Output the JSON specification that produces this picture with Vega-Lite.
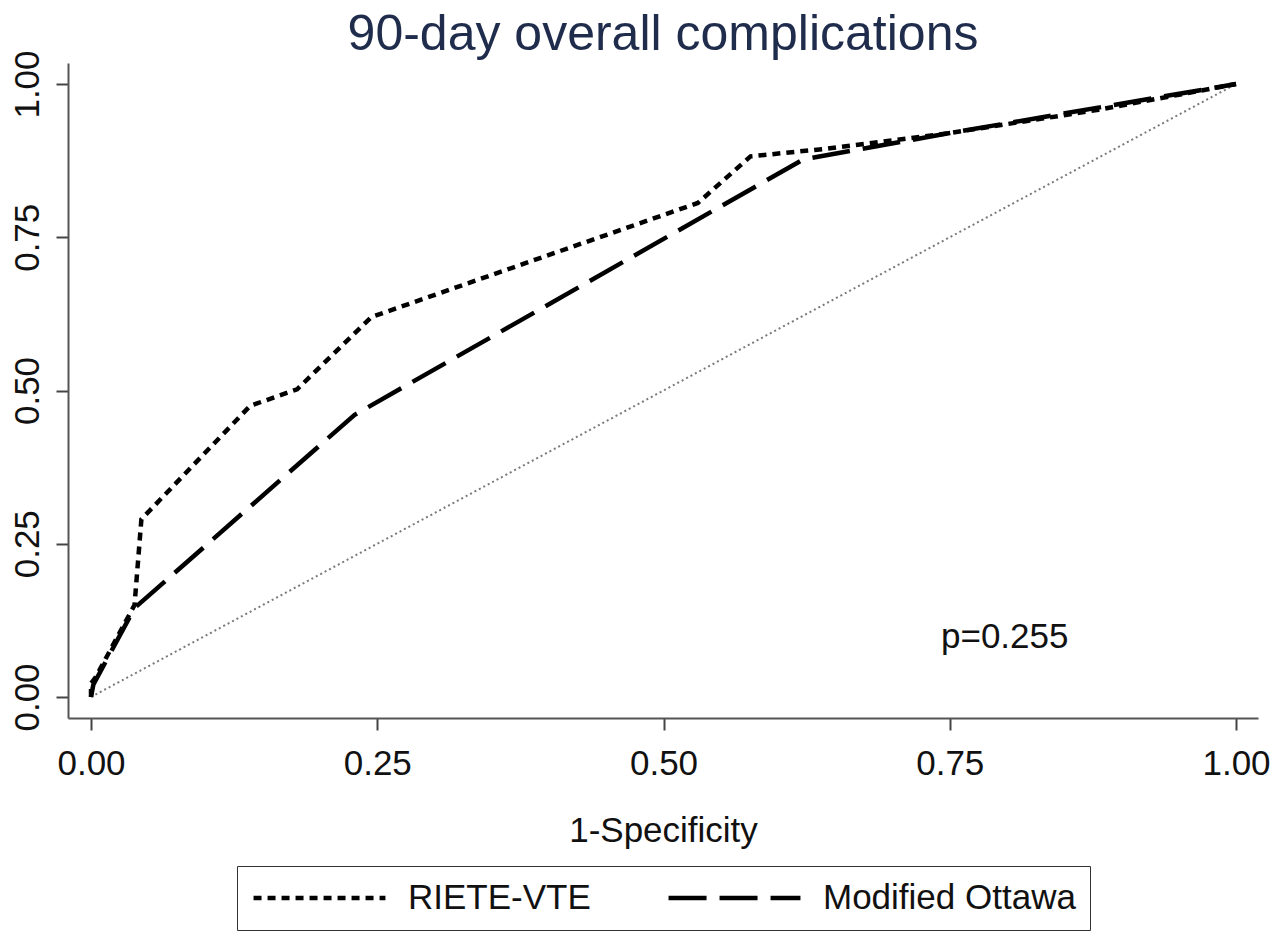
{
  "$schema": "https://vega.github.io/schema/vega-lite/v6.json",
  "autosize": {"type": "none"},
  "width": 1190,
  "height": 655,
  "padding": {"left": 68, "top": 63, "right": 30, "bottom": 217},
  "background": "white",
  "config": {
    "font": "Liberation Sans",
    "view": {"stroke": null},
    "axis": {
      "grid": false,
      "domainColor": "#555555",
      "domainWidth": 2,
      "tickColor": "#444444",
      "tickWidth": 2,
      "tickSize": 12,
      "labelFont": "Liberation Sans",
      "labelFontSize": 35,
      "labelColor": "#111111",
      "titleFont": "Liberation Sans",
      "titleFontSize": 35,
      "titleFontWeight": "normal",
      "titleColor": "#111111"
    },
    "legend": {
      "labelFont": "Liberation Sans",
      "labelFontSize": 35,
      "labelColor": "#111111",
      "labelLimit": 500,
      "layout": {"bottom": {"anchor": "middle", "direction": "horizontal"}}
    }
  },
  "title": {
    "text": "90-day overall complications",
    "fontSize": 50,
    "fontWeight": "normal",
    "color": "#1f2c4c",
    "font": "Liberation Sans",
    "anchor": "middle",
    "offset": -10
  },
  "datasets": {
    "roc": [
      {"fpr": 0.0, "tpr": 0.0, "model": "RIETE-VTE"},
      {"fpr": 0.0, "tpr": 0.022, "model": "RIETE-VTE"},
      {"fpr": 0.004, "tpr": 0.032, "model": "RIETE-VTE"},
      {"fpr": 0.038, "tpr": 0.15, "model": "RIETE-VTE"},
      {"fpr": 0.044, "tpr": 0.29, "model": "RIETE-VTE"},
      {"fpr": 0.139, "tpr": 0.475, "model": "RIETE-VTE"},
      {"fpr": 0.18, "tpr": 0.502, "model": "RIETE-VTE"},
      {"fpr": 0.245, "tpr": 0.62, "model": "RIETE-VTE"},
      {"fpr": 0.53, "tpr": 0.806, "model": "RIETE-VTE"},
      {"fpr": 0.576, "tpr": 0.882, "model": "RIETE-VTE"},
      {"fpr": 0.64, "tpr": 0.894, "model": "RIETE-VTE"},
      {"fpr": 0.75, "tpr": 0.92, "model": "RIETE-VTE"},
      {"fpr": 0.88, "tpr": 0.958, "model": "RIETE-VTE"},
      {"fpr": 1.0, "tpr": 1.0, "model": "RIETE-VTE"},
      {"fpr": 0.0, "tpr": 0.0, "model": "Modified Ottawa"},
      {"fpr": 0.002, "tpr": 0.02, "model": "Modified Ottawa"},
      {"fpr": 0.038, "tpr": 0.145, "model": "Modified Ottawa"},
      {"fpr": 0.23, "tpr": 0.46, "model": "Modified Ottawa"},
      {"fpr": 0.622, "tpr": 0.877, "model": "Modified Ottawa"},
      {"fpr": 0.75, "tpr": 0.92, "model": "Modified Ottawa"},
      {"fpr": 1.0, "tpr": 1.0, "model": "Modified Ottawa"}
    ],
    "ref": [
      {"fpr": 0.0, "tpr": 0.0},
      {"fpr": 1.0, "tpr": 1.0}
    ],
    "note": [
      {"fpr": 0.798, "tpr": 0.098, "label": "p=0.255"}
    ]
  },
  "layer": [
    {
      "data": {"name": "ref"},
      "mark": {"type": "line", "color": "#7a7a7a", "strokeWidth": 2, "strokeDash": [2, 3]},
      "encoding": {
        "x": {"field": "fpr", "type": "quantitative", "scale": {"domain": [-0.0201, 1.0192], "nice": false, "zero": false},
              "axis": {"values": [0, 0.25, 0.5, 0.75, 1], "format": ".2f", "title": "1-Specificity", "labelPadding": 16, "titlePadding": 32}},
        "y": {"field": "tpr", "type": "quantitative", "scale": {"domain": [-0.0343, 1.0343], "nice": false, "zero": false},
              "axis": {"values": [0, 0.25, 0.5, 0.75, 1], "format": ".2f", "title": null, "labelAngle": -90, "labelAlign": "center", "labelBaseline": "bottom", "labelPadding": 11}}
      }
    },
    {
      "data": {"name": "roc"},
      "mark": {"type": "line", "color": "black", "strokeWidth": 4.5},
      "encoding": {
        "x": {"field": "fpr", "type": "quantitative"},
        "y": {"field": "tpr", "type": "quantitative"},
        "detail": {"field": "model"},
        "strokeDash": {
          "field": "model",
          "type": "nominal",
          "sort": ["RIETE-VTE", "Modified Ottawa"],
          "scale": {"domain": ["RIETE-VTE", "Modified Ottawa"], "range": [[8, 6], [38, 13]]},
          "legend": {
            "title": null,
            "orient": "bottom",
            "direction": "horizontal",
            "symbolType": "stroke",
            "symbolSize": 17400,
            "symbolStrokeWidth": 4.5,
            "symbolStrokeColor": "black",
            "clipHeight": 36,
            "labelOffset": 20,
            "labelLimit": 500,
            "columnPadding": 75,
            "padding": 14,
            "strokeColor": "#333333",
            "offset": 18
          }
        }
      }
    },
    {
      "data": {"name": "note"},
      "mark": {"type": "text", "fontSize": 35, "color": "#111111", "align": "center", "baseline": "middle"},
      "encoding": {
        "x": {"field": "fpr", "type": "quantitative"},
        "y": {"field": "tpr", "type": "quantitative"},
        "text": {"field": "label"}
      }
    }
  ]
}
